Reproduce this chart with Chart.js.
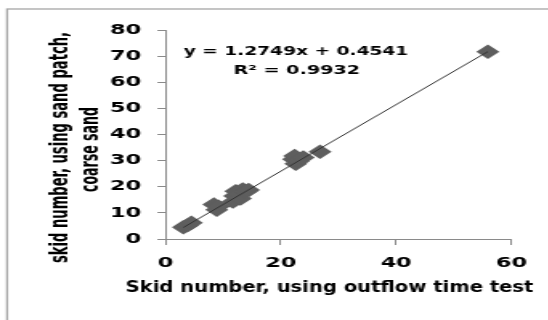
<!DOCTYPE html>
<html>
<head>
<meta charset="utf-8">
<script src="https://cdn.jsdelivr.net/npm/chart.js@4/dist/chart.umd.min.js"></script>
<style>
  html, body { margin: 0; padding: 0; background: #fff; overflow: hidden; }
  /* the chart is drawn narrow and widened, like the exported figure */
  #wrap { width: 342.5px; height: 320px; transform: scaleX(1.6); transform-origin: 0 0; }
</style>
</head>
<body>
<div id="wrap"><canvas id="skidChart"></canvas></div>
<script>
// skid numbers: outflow time test (x) vs sand patch with coarse sand (y)
const outflowSkid = [3.1, 3.8, 4.5, 8.4, 8.9, 9.2, 11.7, 12.0, 12.2, 12.9, 13.0, 13.4, 14.0, 14.4,
                     22.2, 22.4, 22.6, 23.0, 23.9, 26.8, 55.9];
const sandPatchSkid = [4.5, 5.2, 6.2, 13.2, 11.2, 12.4, 14.3, 16.5, 18.3, 17.2, 15.5, 19.0, 18.2, 18.8,
                       30.5, 31.8, 28.8, 29.8, 31.2, 33.4, 71.7];
const xTicks = [0, 20, 40, 60];
const yTicks = [0, 10, 20, 30, 40, 50, 60, 70, 80];

// linear trendline
const slope = 1.2749;
const intercept = 0.4541;
const rSquared = 0.9932;

const xTitle = 'Skid number, using outflow time test';
const yTitleLines = ['skid number, using sand patch,', 'coarse sand'];

const points = outflowSkid.map((x, i) => ({ x: x, y: sandPatchSkid[i] }));
const xMin = Math.min(...outflowSkid);
const xMax = Math.max(...outflowSkid);
const trend = [xMin, xMax].map(x => ({ x: x, y: slope * x + intercept }));

const tickFont = { family: 'DejaVu Sans', weight: 'bold', size: 14 };
const axisGray = '#8a8a8a';

// draw text centred at (x, y), squeezed or widened to the given width
function fitText(ctx, text, x, y, width, angle) {
  ctx.save();
  ctx.translate(x, y);
  if (angle) ctx.rotate(angle);
  ctx.scale(width / ctx.measureText(text).width, 1);
  ctx.fillText(text, 0, 0);
  ctx.restore();
}

const extras = {
  id: 'extras',
  beforeDraw(chart) {
    const ctx = chart.ctx;
    ctx.save();
    ctx.fillStyle = '#fff';
    ctx.fillRect(0, 0, chart.width, chart.height);
    ctx.strokeStyle = '#a6a6a6';
    ctx.lineWidth = 1.3;
    ctx.strokeRect(4.4, 9, chart.width + 20, chart.height + 20);
    ctx.restore();
  },
  afterDraw(chart) {
    const ctx = chart.ctx;
    const area = chart.chartArea;
    ctx.save();
    ctx.fillStyle = '#000';
    ctx.textAlign = 'center';

    // y axis title, two rotated lines
    ctx.font = 'bold 16.5px "DejaVu Sans Condensed", "Liberation Sans Narrow", sans-serif';
    ctx.textBaseline = 'alphabetic';
    fitText(ctx, yTitleLines[0], 41.5, 147.5, 231, -Math.PI / 2);
    fitText(ctx, yTitleLines[1], 60.5, 149.5, 85, -Math.PI / 2);

    // x axis title
    ctx.font = 'bold 16px "DejaVu Sans", sans-serif';
    ctx.textBaseline = 'middle';
    fitText(ctx, xTitle, 205.3, 287.5, 254);

    // trendline equation
    ctx.font = 'bold 13px "DejaVu Sans", sans-serif';
    const cx = area.left + area.width * 0.377;
    fitText(ctx, 'y = ' + slope + 'x + ' + intercept, cx, area.top + 22, 140);
    fitText(ctx, 'R\u00b2 = ' + rSquared, cx + 0.6, area.top + 40.5, 78.8);
    ctx.restore();
  }
};

new Chart(document.getElementById('skidChart'), {
  data: {
    datasets: [
      {
        type: 'scatter',
        data: points,
        pointStyle: 'rectRot',
        pointRadius: 7.2,
        pointHoverRadius: 7.2,
        backgroundColor: '#5e5e5e',
        borderColor: '#5e5e5e',
        borderWidth: 0,
        order: 2
      },
      {
        type: 'line',
        data: trend,
        borderColor: '#333',
        borderWidth: 1,
        pointRadius: 0,
        fill: false,
        order: 1
      }
    ]
  },
  options: {
    responsive: true,
    maintainAspectRatio: false,
    animation: false,
    layout: { padding: { left: 0, top: 30, right: 23.75, bottom: 0 } },
    plugins: {
      legend: { display: false },
      tooltip: { enabled: false }
    },
    scales: {
      x: {
        type: 'linear',
        min: 0,
        max: 60,
        afterBuildTicks: s => { s.ticks = xTicks.map(v => ({ value: v })); },
        afterFit: s => { s.height = 81; },
        grid: { drawOnChartArea: false, drawTicks: true, tickLength: 6, color: axisGray },
        border: { color: axisGray, width: 1 },
        ticks: { color: '#000', font: tickFont, padding: 10, maxRotation: 0 }
      },
      y: {
        type: 'linear',
        min: 0,
        max: 80,
        afterBuildTicks: s => { s.ticks = yTicks.map(v => ({ value: v })); },
        afterFit: s => { s.width = 103.1; },
        grid: { drawOnChartArea: false, drawTicks: true, tickLength: 5, color: axisGray },
        border: { color: axisGray, width: 1 },
        ticks: { color: '#000', font: tickFont, padding: 10 }
      }
    }
  },
  plugins: [extras]
});
</script>
</body>
</html>
